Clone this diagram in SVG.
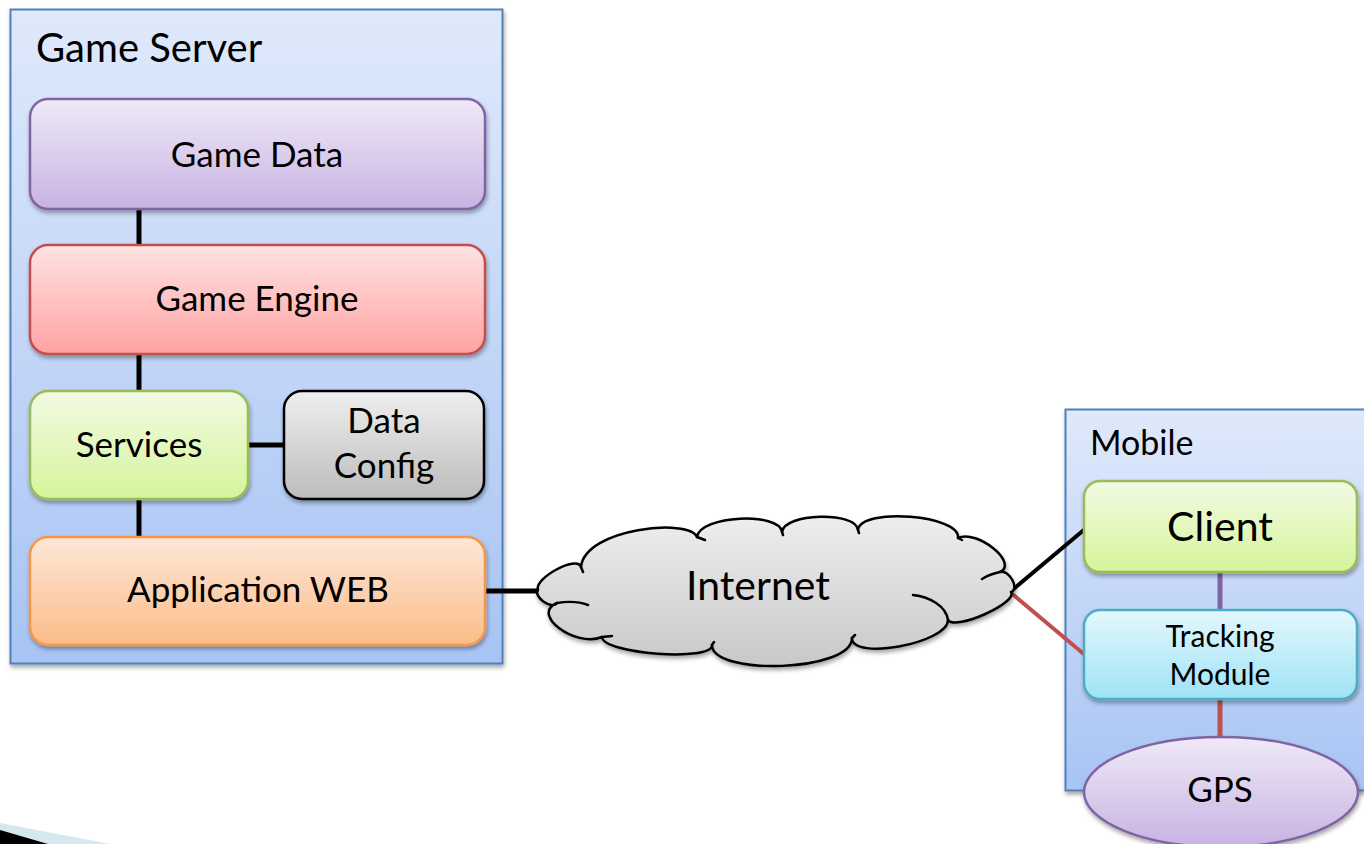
<svg xmlns="http://www.w3.org/2000/svg" width="1364" height="844" viewBox="0 0 1364 844">
  <defs>
    <linearGradient id="gContainer" x1="0" y1="0" x2="0" y2="1">
      <stop offset="0" stop-color="#dfe9fb"/>
      <stop offset="1" stop-color="#a8c4f4"/>
    </linearGradient>
    <linearGradient id="gPurple" x1="0" y1="0" x2="0" y2="1">
      <stop offset="0" stop-color="#efe9f7"/>
      <stop offset="1" stop-color="#c8b3e3"/>
    </linearGradient>
    <linearGradient id="gRed" x1="0" y1="0" x2="0" y2="1">
      <stop offset="0" stop-color="#ffe2e2"/>
      <stop offset="1" stop-color="#ffa3a3"/>
    </linearGradient>
    <linearGradient id="gGreen" x1="0" y1="0" x2="0" y2="1">
      <stop offset="0" stop-color="#f2fae3"/>
      <stop offset="1" stop-color="#d5f59b"/>
    </linearGradient>
    <linearGradient id="gGrey" x1="0" y1="0" x2="0" y2="1">
      <stop offset="0" stop-color="#efefef"/>
      <stop offset="1" stop-color="#bcbcbc"/>
    </linearGradient>
    <linearGradient id="gOrange" x1="0" y1="0" x2="0" y2="1">
      <stop offset="0" stop-color="#fee7d8"/>
      <stop offset="1" stop-color="#fbbc88"/>
    </linearGradient>
    <linearGradient id="gCyan" x1="0" y1="0" x2="0" y2="1">
      <stop offset="0" stop-color="#e4f7fc"/>
      <stop offset="1" stop-color="#9ee3f6"/>
    </linearGradient>
    <linearGradient id="gCloud" x1="0" y1="0" x2="0" y2="1">
      <stop offset="0" stop-color="#eeeeee"/>
      <stop offset="1" stop-color="#c8c8c8"/>
    </linearGradient>
    <filter id="shadow" x="-10%" y="-10%" width="120%" height="130%">
      <feDropShadow dx="1" dy="3" stdDeviation="2" flood-color="#000" flood-opacity="0.35"/>
    </filter>
  </defs>
  <style>
    .container { fill: url(#gContainer); stroke: #4f81bd; stroke-width: 2; filter: url(#shadow); }
    .box { stroke-width: 2.5; filter: url(#shadow); }
    .purple { fill: url(#gPurple); stroke: #8064a2; }
    .red { fill: url(#gRed); stroke: #c0504d; }
    .green { fill: url(#gGreen); stroke: #9bbb59; }
    .grey { fill: url(#gGrey); stroke: #000; }
    .orange { fill: url(#gOrange); stroke: #f79646; }
    .cyan { fill: url(#gCyan); stroke: #4bacc6; }
    text { font-family: Lato, "Liberation Sans", sans-serif; fill: #000; }
    .title { font-size: 40px; }
    .label { font-size: 35px; text-anchor: middle; }
    .big { font-size: 41px; text-anchor: middle; }
    .small { font-size: 30px; text-anchor: middle; }
    .link { stroke: #000; stroke-width: 5; fill: none; }
  </style>

  <!-- page decoration at bottom-left -->
  <polygon points="0,823 110,844 0,844" fill="#d5e8f0"/>
  <polygon points="0,830 48,844 0,844" fill="#000"/>

  <!-- containers -->
  <g id="game-server">
    <rect class="container" x="10.5" y="9.5" width="492" height="654"/>
    <text class="title" x="36" y="62">Game Server</text>
  </g>
  <g id="mobile">
    <rect class="container" x="1065.5" y="409.5" width="310" height="381"/>
    <text class="title" x="1090" y="455" style="font-size:34px">Mobile</text>
  </g>

  <!-- connectors -->
  <g id="connectors">
    <line class="link" x1="139" y1="209" x2="139" y2="245"/>
    <line class="link" x1="139" y1="354" x2="139" y2="391"/>
    <line class="link" x1="248" y1="445" x2="284" y2="445"/>
    <line class="link" x1="139" y1="499" x2="139" y2="537"/>
    <line class="link" x1="485" y1="591" x2="540" y2="591"/>
    <line class="link" x1="1010" y1="592" x2="1085" y2="529" style="stroke-width:4"/>
    <line class="link" x1="1010" y1="592" x2="1085" y2="655" style="stroke:#c0504d;stroke-width:4"/>
    <line class="link" x1="1220" y1="572" x2="1220" y2="610" style="stroke:#8064a2"/>
    <line class="link" x1="1220" y1="699" x2="1220" y2="738" style="stroke:#c0504d"/>
  </g>

  <!-- server nodes -->
  <g id="game-data">
    <rect class="box purple" x="30" y="99" width="455" height="110" rx="18"/>
    <text class="label" x="257" y="167">Game Data</text>
  </g>
  <g id="game-engine">
    <rect class="box red" x="30" y="245" width="455" height="109" rx="18"/>
    <text class="label" x="257" y="311">Game Engine</text>
  </g>
  <g id="services">
    <rect class="box green" x="30" y="391" width="218" height="108" rx="18"/>
    <text class="label" x="139" y="457">Services</text>
  </g>
  <g id="data-config">
    <rect class="box grey" x="284" y="391" width="200" height="108" rx="18"/>
    <text class="label" x="384" y="433">Data</text>
    <text class="label" x="384" y="478">Config</text>
  </g>
  <g id="application-web">
    <rect class="box orange" x="30" y="537" width="455" height="108" rx="18"/>
    <text class="label" x="258" y="602">Application WEB</text>
  </g>

  <!-- network cloud -->
  <g id="internet">
    <path filter="url(#shadow)" fill="url(#gCloud)" stroke="#000" stroke-width="2.5" stroke-linejoin="round"
      d="M538,590 C534,578 577,555 581,567 C585,528 690,518 697,537 C700,515 780,512 782,532 C784,513 856,511 858,530 C861,507 961,515 958,538 C977,529 1019,563 1000,572 C1009,569 1020,589 1011,592 C1018,603 955,631 948,620 C948,643 852,661 852,638 C852,672 712,676 712,645 C713,662 603,654 602,637 C575,648 530,614 557,603 C552,610 533,597 538,590 Z"/>
    <path fill="none" stroke="#000" stroke-width="2.5" stroke-linecap="round"
      d="M557,603 Q575,600 588,605 M1000,572 Q990,574 982,579 M948,620 C946,606 930,597 913,595 M581,567 l2,5 M697,537 l8,3 M782,532 l1,3 M858,530 l1,3 M958,538 l4,2 M602,637 l10,-1 M712,645 l2,-3 M852,638 l3,-3"/>
    <text class="big" x="758" y="600">Internet</text>
  </g>

  <!-- mobile nodes -->
  <g id="client">
    <rect class="box green" x="1084" y="481" width="273" height="91" rx="16"/>
    <text class="big" x="1220" y="541">Client</text>
  </g>
  <g id="tracking-module">
    <rect class="box cyan" x="1084" y="610" width="273" height="89" rx="16"/>
    <text class="small" x="1220" y="647">Tracking</text>
    <text class="small" x="1220" y="685">Module</text>
  </g>
  <g id="gps">
    <ellipse class="box purple" cx="1221" cy="792" rx="137" ry="55"/>
    <text class="label" x="1220" y="802">GPS</text>
  </g>
</svg>
